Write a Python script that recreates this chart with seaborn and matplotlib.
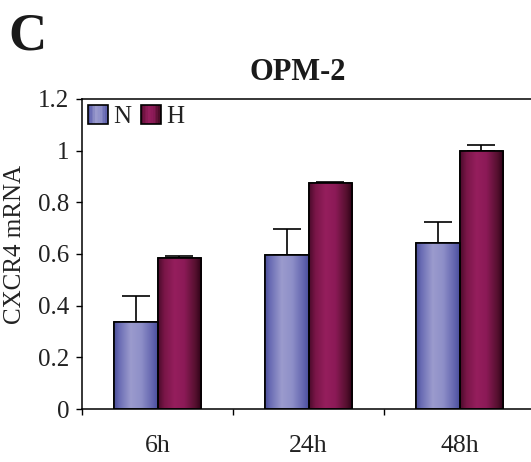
import numpy as np
import pandas as pd
import matplotlib
matplotlib.use("Agg")
import matplotlib.pyplot as plt
from matplotlib.colors import LinearSegmentedColormap
from matplotlib.patches import Patch, Rectangle
from matplotlib.legend_handler import HandlerBase
import seaborn as sns

# CXCR4 mRNA in OPM-2 cells, normoxia (N) vs hypoxia (H)
times = ["6h", "24h", "48h"]
conditions = ["N", "H"]
n_means = [0.336, 0.598, 0.642]
n_errs = [0.101, 0.100, 0.082]
h_means = [0.584, 0.874, 0.998]
h_errs = [0.008, 0.006, 0.024]

df = pd.DataFrame({
    "time": times * 2,
    "condition": ["N"] * 3 + ["H"] * 3,
    "value": n_means + h_means,
})
errs = {"N": n_errs, "H": h_errs}

# horizontal shading of each bar (cylinder-like)
grad = {
    "N": LinearSegmentedColormap.from_list(
        "n", [(0.0, "#4a4e98"), (0.12, "#6a6cb4"), (0.38, "#9b9bcd"),
              (0.62, "#8e8fc8"), (0.88, "#6264ae"), (1.0, "#4a4e9c")]),
    "H": LinearSegmentedColormap.from_list(
        "h", [(0.0, "#4a0a2a"), (0.15, "#7a1648"), (0.38, "#951e5d"),
              (0.6, "#8c1a57"), (0.85, "#56102f"), (1.0, "#2a0014")]),
}
mid = {"N": "#8c8dc6", "H": "#8a1a55"}

sns.set_theme(style="white")
plt.rcParams["font.family"] = ["Liberation Serif", "DejaVu Serif"]
plt.rcParams["text.color"] = "#222222"

fig = plt.figure(figsize=(5.31, 4.62), dpi=100)
ax = fig.add_axes([82 / 531, 53 / 462, 453 / 531, 310 / 462])

sns.barplot(data=df, x="time", y="value", hue="condition",
            hue_order=conditions, order=times, palette=mid,
            width=0.58, errorbar=None, legend=False,
            edgecolor="black", linewidth=1.2, ax=ax)

ramp = np.linspace(0, 1, 256).reshape(1, -1)
for cond, cont in zip(conditions, ax.containers):
    xs, tops = [], []
    for bar in cont.patches:
        x0, w, h = bar.get_x(), bar.get_width(), bar.get_height()
        im = ax.imshow(ramp, cmap=grad[cond], aspect="auto",
                       extent=(x0, x0 + w, 0, h), zorder=2.1,
                       interpolation="bilinear")
        im.set_clip_path(bar)
        ax.add_patch(Rectangle((x0, 0), w, h, fill=False,
                               edgecolor="black", linewidth=1.2, zorder=2.2))
        xs.append(x0 + w / 2)
        tops.append(h)
    e = errs[cond]
    ax.errorbar(xs, tops, yerr=[np.zeros(len(e)), e], fmt="none",
                ecolor="black", elinewidth=1.2, capsize=10, capthick=1.2,
                zorder=2.0)

ax.set_xlim(-0.5, 2.5)
ax.set_ylim(0, 1.2)
ax.set_yticks([0, 0.2, 0.4, 0.6, 0.8, 1.0, 1.2])
ax.set_yticklabels(["0", "0.2", "0.4", "0.6", "0.8", "1", "1.2"])
ax.set_xticks(range(len(times)))
ax.set_xticklabels(times)
ax.set_xticks([-0.5, 0.5, 1.5], minor=True)
ax.tick_params(axis="x", which="major", length=0, pad=19, labelsize=18.5,
               labelcolor="#222222")
ax.tick_params(axis="x", which="minor", length=4, width=1.0,
               direction="out", color="black", bottom=True)
ax.tick_params(axis="y", length=4, width=1.0, direction="out", pad=5,
               labelsize=18, color="black", left=True, labelcolor="#222222")
ax.set_xlabel("")
ax.set_ylabel("")

for side in ["left", "bottom", "top"]:
    ax.spines[side].set_visible(True)
    ax.spines[side].set_color("black")
    ax.spines[side].set_linewidth(1.1)
ax.spines["right"].set_visible(False)


class GradientHandle(HandlerBase):
    def __init__(self, cmap):
        super().__init__()
        self.cmap = cmap

    def create_artists(self, legend, orig_handle, xdescent, ydescent,
                       width, height, fontsize, trans):
        n = 12
        arts = []
        for i in range(n):
            r = Rectangle((-xdescent + width * i / n, -ydescent), width / n,
                          height, facecolor=self.cmap((i + 0.5) / n),
                          edgecolor="none", transform=trans)
            arts.append(r)
        arts.append(Rectangle((-xdescent, -ydescent), width, height,
                              fill=False, edgecolor="black", linewidth=1.2,
                              transform=trans))
        return arts


handles = [Patch(label=c) for c in conditions]
ax.legend(handles=handles, labels=conditions, loc="upper left",
          bbox_to_anchor=(0.0, 1.0), ncol=2, frameon=False,
          fontsize=18, handlelength=0.8, handleheight=0.8,
          handletextpad=0.2, columnspacing=0.4, borderaxespad=0.0,
          borderpad=0.25,
          handler_map={handles[0]: GradientHandle(grad["N"]),
                       handles[1]: GradientHandle(grad["H"])})

fig.text(15 / 531, 1 - 244 / 462, "CXCR4 mRNA", rotation=90,
         ha="center", va="center", fontsize=18)
fig.text(298 / 531, 1 - 73 / 462, "OPM-2", ha="center", va="center",
         fontsize=22, fontweight="bold", color="#1a1a1a")
fig.text(8 / 531, 1 - 36 / 462, "C", ha="left", va="center",
         fontsize=38, fontweight="bold", color="#1a1a1a")

fig.savefig("out.png", dpi=100)
